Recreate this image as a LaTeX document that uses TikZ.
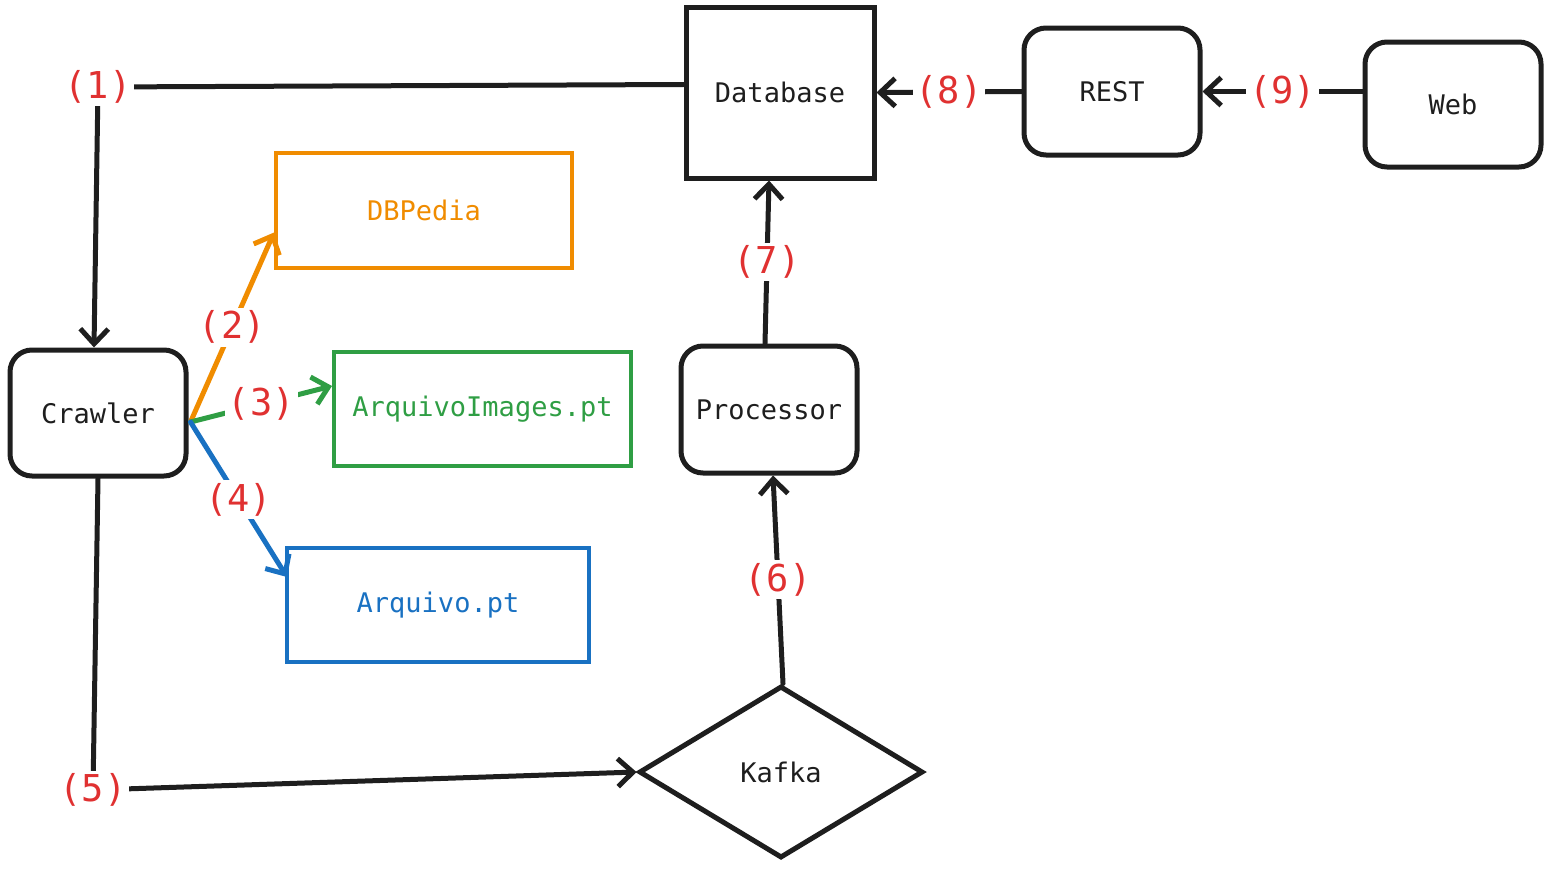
\documentclass[tikz,border=0pt]{standalone}
\usepackage{fontspec}
\setmainfont{DejaVu Sans Mono}
\usetikzlibrary{arrows.meta,shapes.geometric,calc}
\definecolor{ink}{HTML}{1E1E1E}
\definecolor{lred}{HTML}{E03131}
\definecolor{corange}{HTML}{F08C00}
\definecolor{cgreen}{HTML}{2F9E44}
\definecolor{cblue}{HTML}{1971C2}
\begin{document}
\begin{tikzpicture}[x=1pt,y=-1pt,
  txt/.style={font=\fontsize{27}{31}\selectfont},
  box/.style={draw=ink,line width=5pt,rounded corners=22pt,minimum width=176pt,minimum height=126pt,text=ink,txt},
  sqbox/.style={draw=ink,line width=5pt,minimum width=188pt,minimum height=171pt,text=ink,txt},
  cbox/.style={draw=#1,line width=4pt,minimum width=296pt,minimum height=114pt,text=#1,txt},
  dia/.style={draw=ink,diamond,line width=5pt,minimum width=284pt,minimum height=172pt,inner sep=0pt,text=ink,txt},
  conn/.style={draw=#1,line width=5pt,line cap=round,line join=round,-{Straight Barb[length=15pt,width=28pt]}},
  conn/.default=ink,
  lab/.style={fill=white,text=lred,inner sep=3pt,font=\fontsize{37}{42}\selectfont}
]
\useasboundingbox (0,0) rectangle (1552,870);
\node[box] (crawler) at (98,413) {Crawler};
\node[sqbox] (db) at (780,92.5) {Database};
\node[box,minimum height=127pt] (rest) at (1112,91.5) {REST};
\node[box,minimum height=125pt] (web) at (1453,104.5) {Web};
\node[cbox=corange,minimum height=115pt] (dbp) at (424,210.5) {DBPedia};
\node[cbox=cgreen,minimum width=297pt] (arqi) at (482.5,409) {ArquivoImages.pt};
\node[cbox=cblue,minimum width=302pt] (arq) at (438,605) {Arquivo.pt};
\node[box,minimum height=127pt] (proc) at (769,409.5) {Processor};
\node[dia] (kafka) at (781,772) {Kafka};
\coordinate (c1) at (98,87);
\coordinate (c5) at (93,790);

\draw[conn] ($(db.west)+(0,-8)$) -- (c1) node[lab]{(1)} -- ($(crawler.north)+(-4,0)$);
\draw[conn=corange] ($(crawler.east)+(2,9)$) -- node[lab]{(2)} ($(dbp.west)+(0,22)$);
\draw[conn=cgreen] ($(crawler.east)+(2,9)$) -- node[lab]{(3)} ($(arqi.west)+(0,-23)$);
\draw[conn=cblue] ($(crawler.east)+(2,9)$) -- node[lab]{(4)} ($(arq.west)+(2,-28)$);
\draw[conn] (crawler.south) -- (c5) node[lab]{(5)} -- (kafka.west);
\draw[conn] ($(kafka.north)+(2,0)$) -- node[lab]{(6)} ($(proc.south)+(4,0)$);
\draw[conn] ($(proc.north)+(-4,0)$) -- node[lab]{(7)} ($(db.south)+(-11,0)$);
\draw[conn] (rest.west) -- node[lab]{(8)} (db.east);
\draw[conn] ($(web.west)+(0,-13)$) -- node[lab]{(9)} (rest.east);
\end{tikzpicture}
\end{document}
